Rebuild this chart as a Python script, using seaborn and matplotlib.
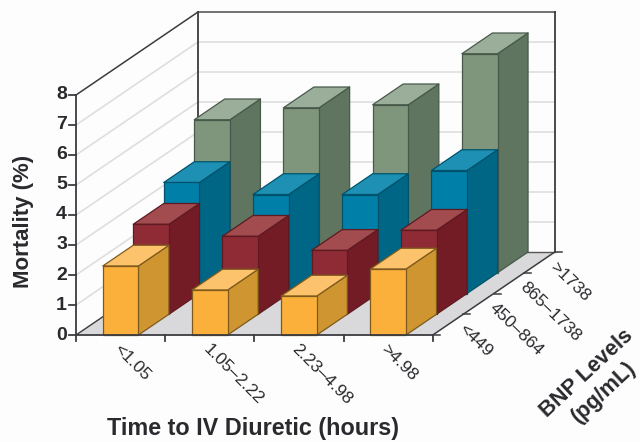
import numpy as np
import pandas as pd
import seaborn as sns
import matplotlib
matplotlib.use("Agg")
import matplotlib.pyplot as plt
from matplotlib.patches import Polygon

# ---- data ----
times = ["<1.05", "1.05–2.22", "2.23–4.98", ">4.98"]
bnp = ["<449", "450–864", "865–1738", ">1738"]
v_449 = [2.3, 1.5, 1.3, 2.2]
v_864 = [3.0, 2.6, 2.13, 2.8]
v_1738 = [3.7, 3.3, 3.3, 4.1]
v_top = [5.1, 5.5, 5.6, 7.3]
y_ticks = [0, 1, 2, 3, 4, 5, 6, 7, 8]

series = [v_449, v_864, v_1738, v_top]
front = ["#FBB03B", "#8F2B35", "#007FA8", "#7F967C"]
top = ["#FDC26C", "#A24C50", "#1E90B4", "#9BAE9A"]
side = ["#CF9530", "#741C26", "#006685", "#5F7560"]
edge = ["#7D5A1C", "#5E1A20", "#00536B", "#47594A"]

sns.set_theme(style="white")
plt.rcParams["font.family"] = ["Liberation Sans", "DejaVu Sans"]

W, H = 640, 442
X0, Y0 = 76, 335            # pixel position of the chart origin
CAT, UNIT = 89.2, 30.0      # px per category, px per mortality %
DX, DY = 30.5 / CAT, 20.75 / UNIT   # oblique shift per BNP row
BAR = 0.4
INK = "#3C3C40"

fig = plt.figure(figsize=(W / 100, H / 100), dpi=100, facecolor="#FDFDFD")
ax = fig.add_axes([0, 0, 1, 1])


def proj(c, d, v):
    return (c + d * DX, v + d * DY)


def px(x, y):
    return ((x - X0) / CAT, (Y0 - y) / UNIT)


def poly(points, **kw):
    ax.add_patch(Polygon(points, closed=True, **kw))


def line(a, b, color=INK, lw=1.3, z=2):
    ax.plot([a[0], b[0]], [a[1], b[1]], color=color, lw=lw, zorder=z,
            solid_capstyle="projecting")


nc, nr, vmax = len(times), len(bnp), y_ticks[-1]

# floor and walls
poly([proj(0, 0, 0), proj(nc, 0, 0), proj(nc, nr, 0), proj(0, nr, 0)],
     facecolor="#D9D9DB", edgecolor="none", zorder=1)
for v in y_ticks[1:-1]:
    line(proj(0, 0, v), proj(0, nr, v), color="#DEDEDE", lw=1.2, z=1)
    line(proj(0, nr, v), proj(nc, nr, v), color="#DEDEDE", lw=1.2, z=1)
line(proj(0, 0, vmax), proj(0, nr, vmax), lw=1.1)
line(proj(0, nr, vmax), proj(nc, nr, vmax), color="#666666", lw=1.3)
line(proj(0, nr, 0), proj(0, nr, vmax))
line(proj(nc, nr, 0), proj(nc, nr, vmax))
line(proj(0, 0, 0), proj(0, nr, 0), lw=1.0)
line(proj(0, nr, 0), proj(nc, nr, 0), color="#555555", lw=1.0)

# bars, back row first
for r in reversed(range(nr)):
    z = 10 + (nr - r) * 3
    base = r * DY
    for i, val in enumerate(series[r]):
        c0, c1 = i + 0.5 - BAR / 2, i + 0.5 + BAR / 2
        poly([proj(c1, r, 0), proj(c1, r + 1, 0), proj(c1, r + 1, val), proj(c1, r, val)],
             facecolor=side[r], edgecolor=edge[r], lw=0.9, zorder=z, joinstyle="round")
        poly([proj(c0, r, val), proj(c1, r, val), proj(c1, r + 1, val), proj(c0, r + 1, val)],
             facecolor=top[r], edgecolor=edge[r], lw=0.9, zorder=z, joinstyle="round")
    df = pd.DataFrame({"pos": [i + 0.5 + r * DX for i in range(nc)], "value": series[r]})
    sns.barplot(data=df, x="pos", y="value", native_scale=True, width=BAR,
                color=front[r], saturation=1, errorbar=None, bottom=base,
                edgecolor=edge[r], linewidth=0.9, zorder=z + 1, ax=ax)

# front axes and ticks
line(proj(0, 0, 0), proj(0, 0, vmax), z=40)
line(proj(0, 0, 0), proj(nc, 0, 0), z=40)
line(proj(nc, 0, 0), proj(nc, nr, 0), z=40, lw=1.1)
for v in y_ticks:
    a = proj(0, 0, v)
    line((a[0] - 7 / CAT, a[1]), a, z=40)
    ax.text(a[0] - 9 / CAT, a[1], str(v), ha="right", va="center",
            fontsize=14, fontweight="bold", color="#2A2A2E")
for c in range(nc + 1):
    a = proj(c, 0, 0)
    line(a, (a[0], a[1] - 6 / UNIT), z=40)
for d in range(nr + 1):
    a = proj(nc, d, 0)
    line(a, (a[0] + 7 / CAT, a[1]), z=40, lw=1.1)

# category labels
for i, t in enumerate(times):
    ax.text(i + 0.45, -12 / UNIT, t, rotation=-45, rotation_mode="anchor",
            ha="left", va="center", fontsize=12.6, color="#2A2A2E")
for d, t in enumerate(bnp):
    a = proj(nc, d + 0.5, 0)
    ax.text(a[0] + 13 / CAT, a[1] - 2 / UNIT, t, rotation=-44, rotation_mode="anchor",
            ha="left", va="center", fontsize=12.6, color="#2A2A2E")

# axis titles
lab = dict(color="#2A2A2E", ha="center", va="center", fontweight="bold")
ax.text(*px(253, 429), "Time to IV Diuretic (hours)", fontsize=16.8, **lab)
ax.text(*px(23, 221), "Mortality (%)", rotation=90, fontsize=16, **lab)
ax.text(*px(587, 373), "BNP Levels", rotation=43, fontsize=15.6, **lab)
ax.text(*px(604, 392), "(pg/mL)", rotation=43, fontsize=15.6, **lab)

ax.set_xlim(-X0 / CAT, (W - X0) / CAT)
ax.set_ylim(-(H - Y0) / UNIT, Y0 / UNIT)
ax.set_axis_off()
fig.savefig("out.png", dpi=100, facecolor=fig.get_facecolor())
